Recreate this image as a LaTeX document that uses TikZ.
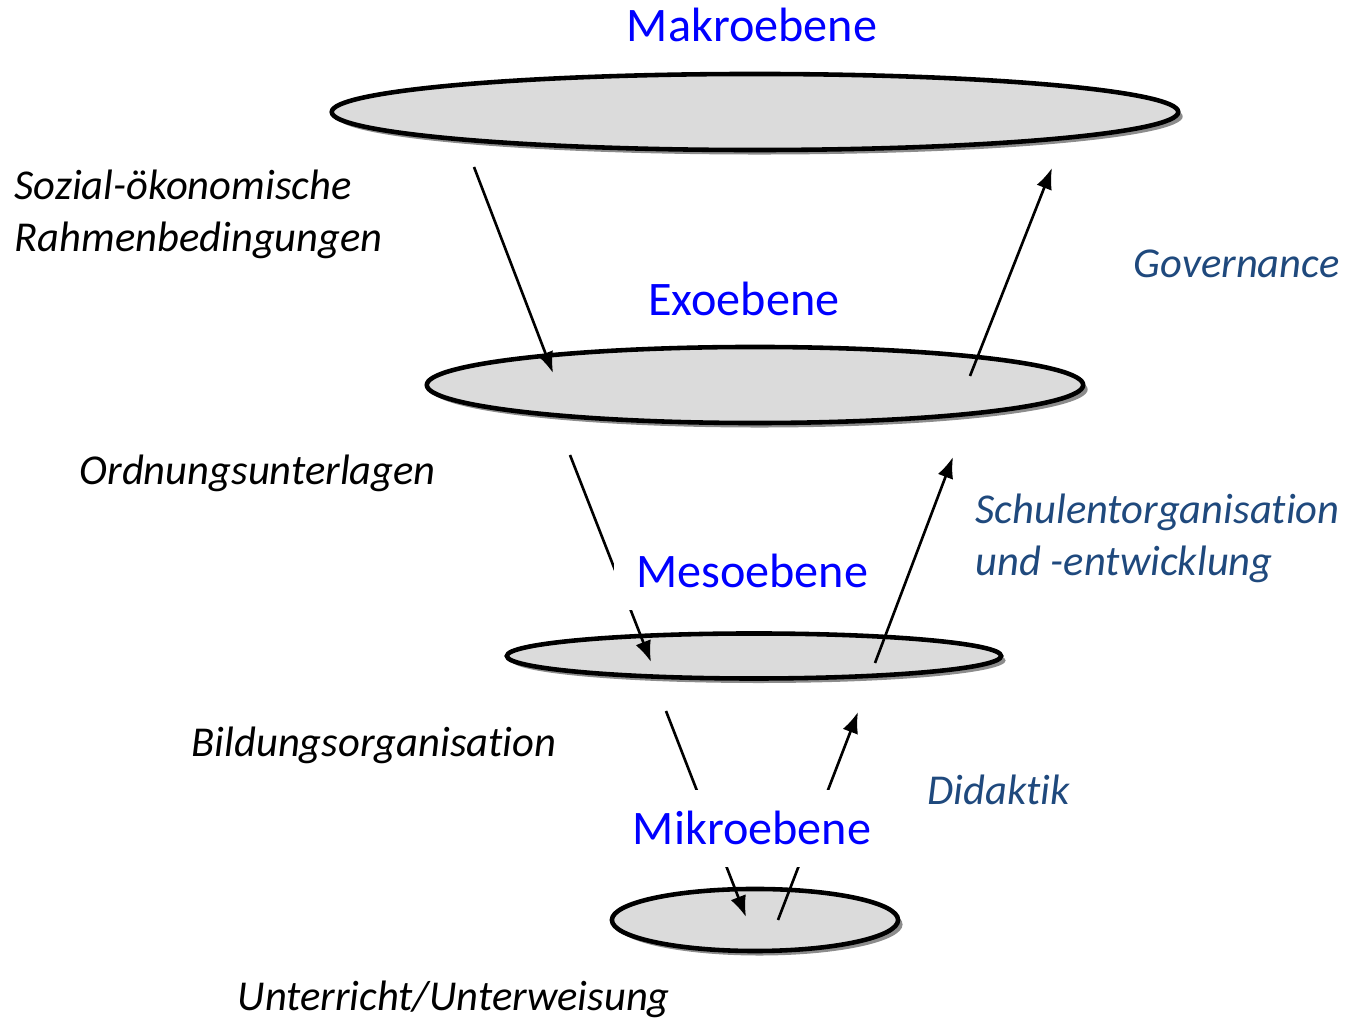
\documentclass[tikz,border=0pt]{standalone}
\usepackage{fontspec}
\setmainfont{Carlito}[Ligatures=NoCommon]
\usetikzlibrary{shapes.geometric,shadows,arrows.meta}
\definecolor{ebenenblau}{RGB}{0,0,255}
\definecolor{textblau}{RGB}{31,73,125}

\begin{document}
\begin{tikzpicture}[x=0.01cm,y=-0.01cm,
  scheibe/.style={ellipse,draw=black,line width=1.3pt,fill=gray!28,inner sep=0pt,
    drop shadow={shadow xshift=0.45mm,shadow yshift=-0.45mm,fill=gray!90,opacity=1}},
  ebene/.style={fill=white,text=ebenenblau,anchor=base,
    font=\fontsize{13.7}{16.5}\selectfont,inner xsep=2.2mm,inner ysep=2.2mm},
  links/.style={font=\fontsize{12.1}{14.8}\selectfont\itshape,align=left,inner sep=0pt},
  rechts/.style={links,text=textblau},
  pfeil/.style={line width=0.75pt,-{Latex[length=6pt,width=4.6pt]}}]
\useasboundingbox (0,0) rectangle (1347,1019);

% die vier Ebenen
\node[scheibe,minimum width=8.46cm,minimum height=0.76cm] (makro) at (755,112) {};
\node[scheibe,minimum width=6.56cm,minimum height=0.76cm] (exo) at (755,385) {};
\node[scheibe,minimum width=4.94cm,minimum height=0.45cm] (meso) at (754,656) {};
\node[scheibe,minimum width=2.86cm,minimum height=0.62cm] (mikro) at (755,920) {};

% Pfeile
\coordinate (ab1) at (474,167);  \coordinate (an1) at (553,373);
\coordinate (ab2) at (570,455);  \coordinate (an2) at (651,662);
\coordinate (ab3) at (666,711);  \coordinate (an3) at (746,917);
\coordinate (auf1) at (970,376); \coordinate (hoch1) at (1052,168);
\coordinate (auf2) at (875,663); \coordinate (hoch2) at (953,457);
\coordinate (auf3) at (778,920); \coordinate (hoch3) at (858,712);

\foreach \s/\e in {ab1/an1,ab2/an2,ab3/an3,auf1/hoch1,auf2/hoch2,auf3/hoch3}
    \draw[pfeil] (\s) -- (\e);

% Ebenen-Beschriftung
\node[ebene] (lmakro) at (752,42) {Makroebene};
\node[ebene] (lexo) at (744,316) {Exoebene};
\node[ebene] (lmeso) at (752,588) {Mesoebene};
\node[ebene] (lmikro) at (752,845) {Mikroebene};

% links
\node[links,anchor=north west] (sozial) at (14,169) {Sozial-ökonomische\\Rahmenbedingungen};
\node[links,anchor=base west] (ordnung) at (79,485) {Ordnungsunterlagen};
\node[links,anchor=base west] (bildung) at (191,757) {Bildungsorganisation};
\node[links,anchor=base west] (unterricht) at (237,1011) {Unterricht/Unterweisung};

% rechts
\node[rechts,anchor=base west] (gov) at (1133,278) {Governance};
\node[rechts,anchor=north west] (schule) at (975,493) {Schulentorganisation\\und -entwicklung};
\node[rechts,anchor=base west] (didaktik) at (927,805) {Didaktik};

\end{tikzpicture}
\end{document}
